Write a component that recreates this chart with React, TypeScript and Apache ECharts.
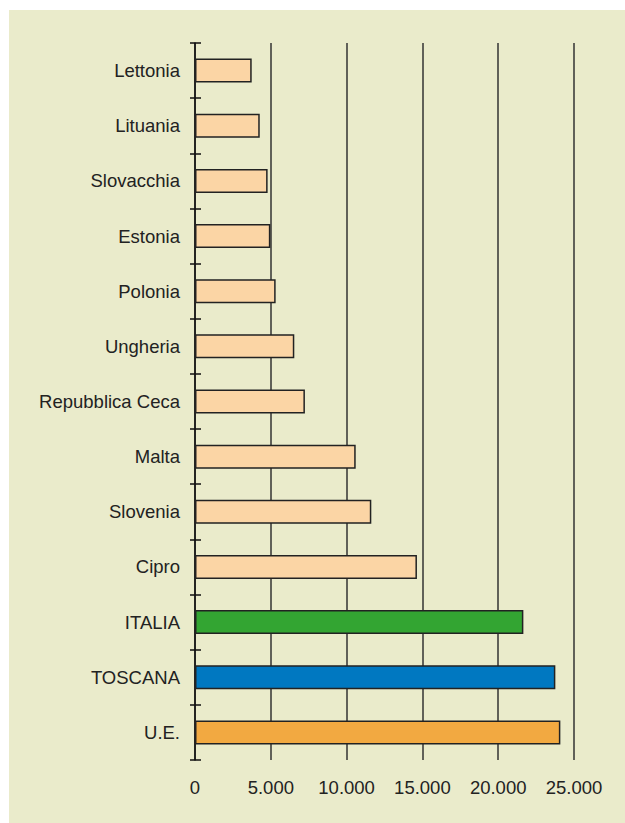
import React, { useEffect, useRef } from "react";
import * as echarts from "echarts";

const categories = [
  "Lettonia",
  "Lituania",
  "Slovacchia",
  "Estonia",
  "Polonia",
  "Ungheria",
  "Repubblica Ceca",
  "Malta",
  "Slovenia",
  "Cipro",
  "ITALIA",
  "TOSCANA",
  "U.E.",
];
const values = [3740, 4270, 4790, 4970, 5320, 6550, 7250, 10600, 11630, 14640, 21660, 23770, 24100];
const barColors = [
  "#FBD5A5", "#FBD5A5", "#FBD5A5", "#FBD5A5", "#FBD5A5", "#FBD5A5", "#FBD5A5",
  "#FBD5A5", "#FBD5A5", "#FBD5A5", "#33A532", "#0078C1", "#F2A941",
];
const xMax = 25000;
const xInterval = 5000;

const fmt = (v: number) => (v === 0 ? "0" : String(v).replace(/\B(?=(\d{3})+(?!\d))/g, "."));

export default function App() {
  const ref = useRef<HTMLDivElement>(null);
  useEffect(() => {
    if (!ref.current) return;
    const chart = echarts.init(ref.current, null, { renderer: "svg" });
    const font = "'Liberation Sans', Arial, sans-serif";
    chart.setOption({
      animation: false,
      backgroundColor: "#ffffff",
      graphic: [
        {
          type: "rect",
          z: -10,
          silent: true,
          shape: { x: 9, y: 10, width: 2000, height: 2000 },
          style: { fill: "#EAEBCB" },
        },
      ],
      grid: { left: 195, top: 43, width: 379, height: 717, containLabel: false },
      xAxis: {
        type: "value",
        min: 0,
        max: xMax,
        interval: xInterval,
        axisLine: { show: false },
        axisTick: { show: false },
        axisLabel: {
          color: "#222",
          fontSize: 18.5,
          fontFamily: font,
          margin: 18,
          formatter: (v: number) => fmt(v),
        },
        splitLine: { show: true, lineStyle: { color: "#333", width: 1.5 } },
      },
      yAxis: [
        {
          type: "category",
          data: categories,
          inverse: true,
          axisLine: { show: true, lineStyle: { color: "#111", width: 1.5 } },
          axisTick: { show: true, length: 5, lineStyle: { color: "#111", width: 1.5 } },
          axisLabel: { color: "#222", fontSize: 18.5, fontFamily: font, margin: 15 },
        },
        {
          type: "category",
          data: categories,
          inverse: true,
          position: "left",
          axisLine: { show: false },
          axisTick: { show: true, inside: true, length: 6, lineStyle: { color: "#111", width: 1.5 } },
          axisLabel: { show: false },
        },
      ],
      series: [
        {
          type: "bar",
          yAxisIndex: 0,
          barWidth: 24,
          data: values.map((v, i) => ({
            value: v,
            itemStyle: { color: barColors[i] },
          })),
          itemStyle: {
            borderColor: "#222",
            borderWidth: 1.5,
          },
        },
      ],
    });
    return () => chart.dispose();
  }, []);
  return (
    <div
      ref={ref}
      style={{ position: "fixed", left: 0, top: 0, width: "100vw", height: "100vh" }}
    />
  );
}
